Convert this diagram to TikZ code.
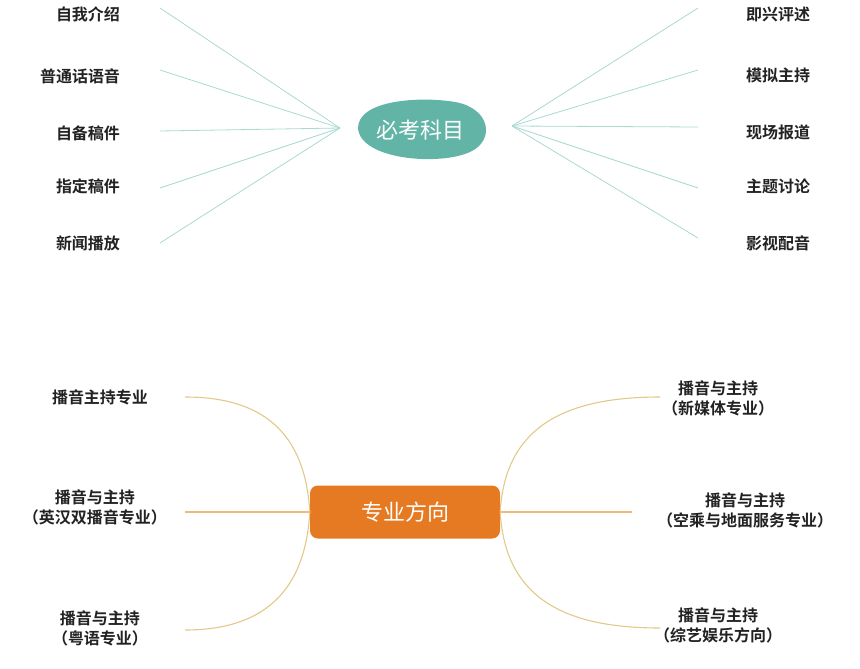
\documentclass[tikz,border=0pt]{standalone}
\usepackage{fontspec}
\setmainfont{Noto Sans CJK SC}[BoldFont={Noto Sans CJK SC Bold}]
\definecolor{teal1}{HTML}{62B5A6}
\definecolor{tline}{HTML}{A9D9D1}
\definecolor{org}{HTML}{E67A22}
\definecolor{gline}{HTML}{E2C98A}
\definecolor{oline}{HTML}{F2B877}
\definecolor{txt}{HTML}{222222}
\begin{document}
\begin{tikzpicture}[x=1pt,y=-1pt,
 lab/.style={font=\fontsize{16}{20}\selectfont\bfseries,text=txt,align=center},
 tl/.style={draw=tline,line width=0.8pt},
 gl/.style={draw=gline,line width=1.1pt},
 ol/.style={draw=oline,line width=1.1pt}]
\useasboundingbox (0,0) rectangle (860,669);
% top
\fill[teal1] (358,128) .. controls (358,100) and (420,96) .. (455,102) .. controls (490,108) and (496,140) .. (470,152) .. controls (440,166) and (360,160) .. (358,128) -- cycle;
\node[text=white,font=\fontsize{22}{24}\selectfont] (c1) at (420,130) {必考科目};
\coordinate (cl) at (340,128);
\coordinate (cr) at (512,126);
\node[lab] (l1) at (88,14) {自我介绍};
\node[lab] (l2) at (80,76) {普通话语音};
\node[lab] (l3) at (88,133) {自备稿件};
\node[lab] (l4) at (88,186) {指定稿件};
\node[lab] (l5) at (88,243) {新闻播放};
\node[lab] (r1) at (778,14) {即兴评述};
\node[lab] (r2) at (778,75) {模拟主持};
\node[lab] (r3) at (778,132) {现场报道};
\node[lab] (r4) at (778,186) {主题讨论};
\node[lab] (r5) at (778,243) {影视配音};
\draw[tl] (160,8) -- (cl); \draw[tl] (160,70) -- (cl); \draw[tl] (160,131) -- (cl);
\draw[tl] (160,188) -- (cl); \draw[tl] (160,243) -- (cl);
\draw[tl] (cr) -- (698,8); \draw[tl] (cr) -- (698,70); \draw[tl] (cr) -- (698,127);
\draw[tl] (cr) -- (698,188); \draw[tl] (cr) -- (698,238);
% bottom
\node[fill=org,rounded corners=8pt,minimum width=190pt,minimum height=53pt,text=white,font=\fontsize{22}{24}\selectfont] (c2) at (405,512) {专业方向};
\node[lab] (b1) at (100,397) {播音主持专业};
\node[lab] (b2) at (95,507) {播音与主持\\（英汉双播音专业）};
\node[lab] (b3) at (100,628) {播音与主持\\（粤语专业）};
\node[lab] (d1) at (718,398) {播音与主持\\（新媒体专业）};
\node[lab] (d2) at (745,510) {播音与主持\\（空乘与地面服务专业）};
\node[lab] (d3) at (718,625) {播音与主持\\（综艺娱乐方向）};
\draw[ol] (c2.west) -- (185,512);
\draw[ol] (c2.east) -- (632,512);
\draw[gl] (c2.west) .. controls (305,430) and (260,397) .. (185,397);
\draw[gl] (c2.west) .. controls (305,595) and (260,630) .. (185,630);
\draw[gl] (c2.east) .. controls (505,430) and (560,397) .. (660,397);
\draw[gl] (c2.east) .. controls (505,595) and (560,628) .. (660,628);
\end{tikzpicture}
\end{document}
